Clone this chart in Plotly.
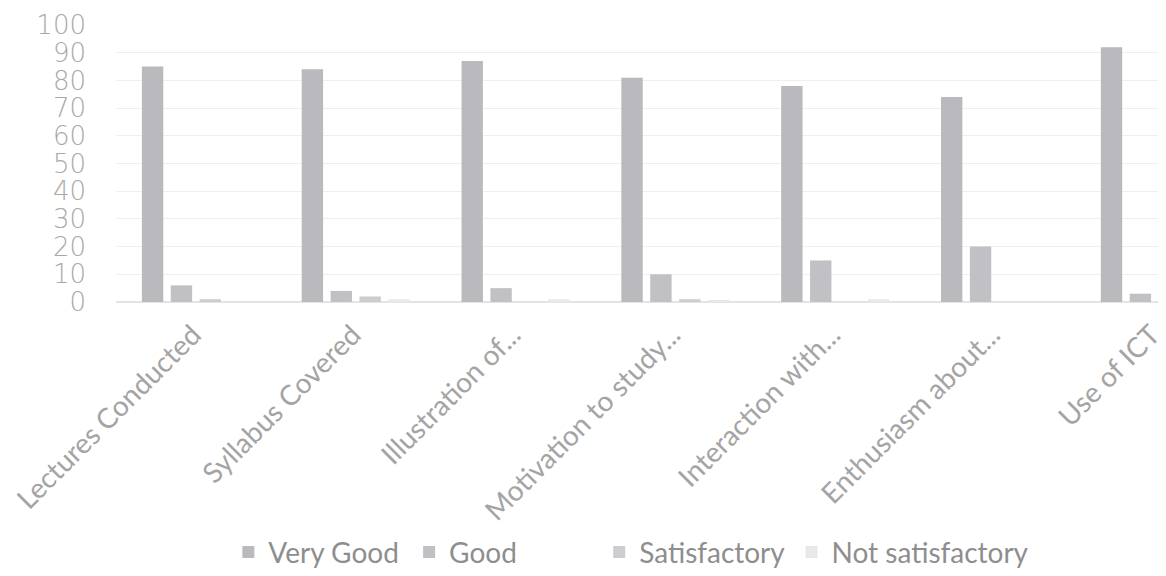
import plotly.graph_objects as go

categories = ["Lectures Conducted", "Syllabus Covered", "Illustration of...",
              "Motivation to study...", "Interaction with...", "Enthusiasm about...",
              "Use of ICT"]
very_good = [85, 84, 87, 81, 78, 74, 92]
good = [6, 4, 5, 10, 15, 20, 3]
satisfactory = [1, 2, 0, 1, 0, 0, 0]
not_satisfactory = [0, 1, 1, 0.5, 1, 0, 0]
y_ticks = [0, 10, 20, 30, 40, 50, 60, 70, 80, 90, 100]

series = [
    ("Very Good", very_good, "#b9b9be", "legend", 0.189),
    ("Good", good, "#c1c1c5", "legend2", 0.344),
    ("Satisfactory", satisfactory, "#cdcdd1", "legend3", 0.507),
    ("Not satisfactory", not_satisfactory, "#e8e8ea", "legend4", 0.672),
]

fig = go.Figure()
legend_cfg = {}
for name, vals, col, lg, lx in series:
    fig.add_trace(go.Bar(x=categories, y=vals, name=name, marker_color=col,
                         marker_line_width=0, legend=lg))
    legend_cfg[lg] = dict(orientation="h", xref="container", yref="container",
                          x=lx, xanchor="left", y=0.055, yanchor="middle",
                          font=dict(size=28, family="Lato", color="#8e8e8e"),
                          itemwidth=30, bgcolor="rgba(0,0,0,0)")

fig.update_layout(
    width=1166, height=576,
    paper_bgcolor="white", plot_bgcolor="white",
    margin=dict(l=108, r=0, t=17, b=282, autoexpand=False),
    barmode="group", bargap=0.277, bargroupgap=0.26,
    font=dict(family="Lato", color="#9a9a9a"),
    showlegend=True,
    **legend_cfg,
)
fig.update_xaxes(type="category", range=[-0.5, 6.12], tickangle=-45,
                 tickfont=dict(size=28, family="Lato", color="#a4a4a4"),
                 showgrid=False, showline=False, zeroline=False, automargin=False,
                 ticks="", ticklabelstandoff=10, ticklabelshift=-3)
fig.update_yaxes(range=[0, 100], tickvals=y_ticks, automargin=False,
                 tickfont=dict(size=26, family="DejaVu Sans", color="#a8a8a8", weight=200),
                 showgrid=True, gridcolor="#efefef", gridwidth=1,
                 zeroline=True, zerolinecolor="#e4e4e4",
                 showline=False, ticks="", ticklabelstandoff=29)

fig.write_html("out.html")
